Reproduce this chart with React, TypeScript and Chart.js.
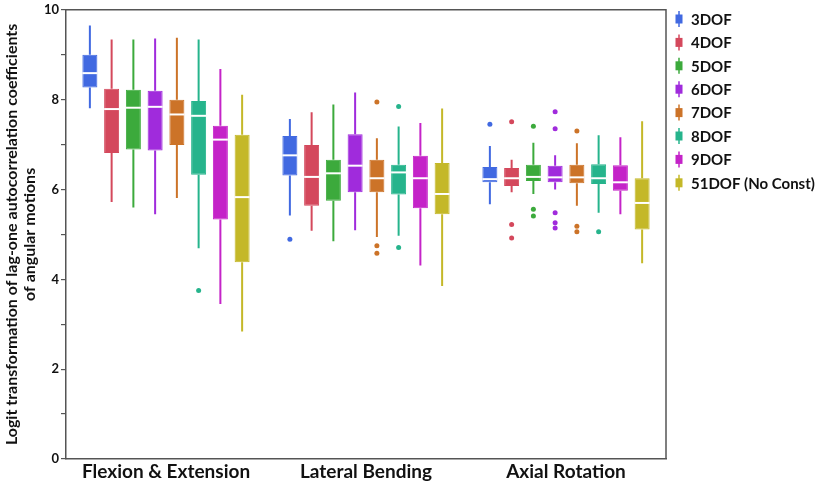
import React, { useEffect, useRef } from 'react';
import { Chart, registerables } from 'chart.js';

Chart.register(...registerables);

const categories = ['Flexion & Extension', 'Lateral Bending', 'Axial Rotation'];
const series = ['3DOF', '4DOF', '5DOF', '6DOF', '7DOF', '8DOF', '9DOF', '51DOF (No Const)'];
const colors = ['#4169e1', '#d4485c', '#3caa3c', '#a02bdc', '#cc7328', '#26b48c', '#c423c8', '#c4b828'];

// one row per series, one value per category
const mins = [
  [7.81, 5.42, 5.67], [5.72, 5.08, 5.94], [5.6, 4.85, 5.9], [5.45, 5.09, 6.0],
  [5.81, 4.94, 5.64], [4.69, 4.97, 5.48], [3.45, 4.31, 5.45], [2.84, 3.85, 4.36],
];
const q1s = [
  [8.27, 6.31, 6.16], [6.81, 5.64, 6.08], [6.89, 5.75, 6.19], [6.87, 5.94, 6.16],
  [6.99, 5.94, 6.14], [6.33, 5.89, 6.12], [5.33, 5.58, 5.97], [4.38, 5.45, 5.11],
];
const medians = [
  [8.59, 6.76, 6.23], [7.79, 6.28, 6.25], [7.82, 6.36, 6.28], [7.84, 6.53, 6.27],
  [7.67, 6.25, 6.27], [7.64, 6.38, 6.25], [7.11, 6.25, 6.16], [5.83, 5.9, 5.7],
];
const q3s = [
  [9.0, 7.19, 6.5], [8.24, 6.99, 6.48], [8.22, 6.66, 6.55], [8.2, 7.23, 6.53],
  [8.0, 6.66, 6.55], [7.97, 6.55, 6.56], [7.42, 6.75, 6.54], [7.22, 6.59, 6.25],
];
const maxs = [
  [9.65, 7.57, 6.97], [9.34, 7.72, 6.66], [9.34, 7.89, 7.04], [9.36, 8.16, 6.76],
  [9.38, 7.14, 7.03], [9.34, 7.4, 7.21], [8.68, 7.48, 7.16], [8.11, 7.8, 7.52],
];
const outliers = [
  [[], [4.89], [7.45]],
  [[], [], [7.51, 5.22, 4.92]],
  [[], [], [7.41, 5.56, 5.41]],
  [[], [], [7.73, 7.35, 5.48, 5.26, 5.14]],
  [[], [7.95, 4.75, 4.58], [7.3, 5.18, 5.06]],
  [[3.75], [7.85, 4.71], [5.06]],
  [[], [], []],
  [[], [], []],
];

const yTitle = ['Logit transformation of lag-one autocorrelation coefficients', 'of angular motions'];
const FONT = 'Lato, "Open Sans", sans-serif';

const boxPlugin = {
  id: 'boxExtras',
  afterDatasetsDraw(chart: any) {
    const { ctx, scales } = chart;
    const y = scales.y;
    ctx.save();
    chart.data.datasets.forEach((ds: any, i: number) => {
      const meta = chart.getDatasetMeta(i);
      meta.data.forEach((bar: any, j: number) => {
        const x = bar.x;
        const half = bar.width / 2;
        ctx.strokeStyle = colors[i];
        ctx.lineWidth = 2;
        ctx.beginPath();
        ctx.moveTo(x, y.getPixelForValue(q3s[i][j]));
        ctx.lineTo(x, y.getPixelForValue(maxs[i][j]));
        ctx.moveTo(x, y.getPixelForValue(q1s[i][j]));
        ctx.lineTo(x, y.getPixelForValue(mins[i][j]));
        ctx.stroke();
        ctx.strokeStyle = '#ffffff';
        ctx.lineWidth = 2;
        const my = y.getPixelForValue(medians[i][j]);
        ctx.beginPath();
        ctx.moveTo(x - half, my);
        ctx.lineTo(x + half, my);
        ctx.stroke();
        ctx.fillStyle = colors[i];
        outliers[i][j].forEach((v: number) => {
          ctx.beginPath();
          ctx.arc(x, y.getPixelForValue(v), 2.5, 0, Math.PI * 2);
          ctx.fill();
        });
      });
    });
    ctx.restore();
  },
  afterDraw(chart: any) {
    const { ctx, chartArea } = chart;
    ctx.save();
    ctx.strokeStyle = '#555';
    ctx.lineWidth = 1.5;
    ctx.beginPath();
    ctx.moveTo(chartArea.left, chartArea.top);
    ctx.lineTo(chartArea.right, chartArea.top);
    ctx.lineTo(chartArea.right, chartArea.bottom);
    ctx.stroke();

    // legend
    ctx.font = `bold 15px ${FONT}`;
    ctx.textBaseline = 'middle';
    series.forEach((name, i) => {
      const cy = 19 + i * 23.4;
      const cx = 679;
      ctx.strokeStyle = colors[i];
      ctx.lineWidth = 1.5;
      ctx.beginPath();
      ctx.moveTo(cx, cy - 8);
      ctx.lineTo(cx, cy + 8);
      ctx.stroke();
      ctx.fillStyle = colors[i];
      ctx.fillRect(cx - 3.5, cy - 4.5, 7, 9);
      ctx.fillStyle = '#111';
      ctx.fillText(name, 691, cy + 1);
    });
    ctx.restore();
  },
};

const App: React.FC = () => {
  const canvasRef = useRef<HTMLCanvasElement>(null);

  useEffect(() => {
    if (!canvasRef.current) return;
    const chart = new Chart(canvasRef.current, {
      type: 'bar',
      data: {
        labels: categories,
        datasets: series.map((name, i) => ({
          label: name,
          data: categories.map((_, j) => [q1s[i][j], q3s[i][j]]),
          backgroundColor: colors[i],
          borderColor: colors[i],
          borderWidth: 1,
          borderSkipped: false,
          categoryPercentage: 0.87,
          barPercentage: 0.69,
        })),
      } as any,
      options: {
        animation: false,
        responsive: true,
        maintainAspectRatio: false,
        layout: { padding: { top: 6, right: 163, left: 0, bottom: 0 } },
        plugins: { legend: { display: false }, tooltip: { enabled: false } },
        scales: {
          x: {
            grid: { display: false, drawTicks: false },
            border: { display: true, color: '#555', width: 1.5 },
            ticks: { color: '#111', font: { family: FONT, size: 19, weight: 'bold', lineHeight: 1.1 }, padding: 2 },
            afterFit: (scale: any) => { scale.height = 26; },
          },
          y: {
            min: 0,
            max: 10,
            ticks: {
              stepSize: 1,
              color: '#111',
              padding: 2,
              font: { family: FONT, size: 13, weight: 'bold' },
              callback: (v: any) => (v % 2 === 0 ? v : ''),
            },
            grid: { drawOnChartArea: false, drawTicks: true, tickLength: 5, color: '#555', lineWidth: 1.2 },
            border: { display: true, color: '#555', width: 1.5 },
            title: {
              display: true,
              text: yTitle,
              color: '#111',
              font: { family: FONT, size: 16, weight: 'bold', lineHeight: 1.12 },
              padding: { top: 3, bottom: 0 },
            },
            afterFit: (scale: any) => { scale.width = 66; },
          },
        },
      } as any,
      plugins: [boxPlugin],
    });
    return () => chart.destroy();
  }, []);

  return (
    <div style={{ position: 'absolute', left: 0, top: 0, width: 829, height: 485, background: '#fff' }}>
      <canvas ref={canvasRef} />
    </div>
  );
};

export default App;
